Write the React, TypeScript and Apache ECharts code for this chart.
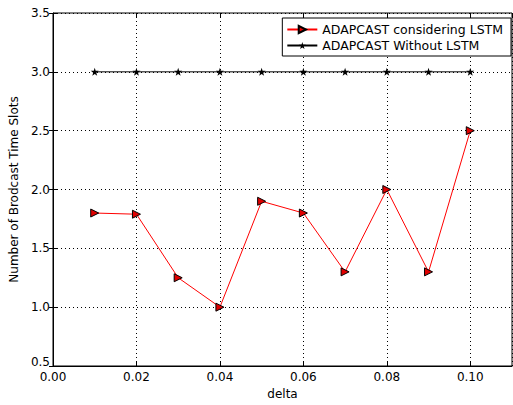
import React, { useEffect, useRef } from "react";
import * as echarts from "echarts";

const deltas = [0.01, 0.02, 0.03, 0.04, 0.05, 0.06, 0.07, 0.08, 0.09, 0.1];
const withLstm = [1.8, 1.79, 1.25, 1.0, 1.9, 1.8, 1.3, 2.0, 1.3, 2.5];
const withoutLstm = [3, 3, 3, 3, 3, 3, 3, 3, 3, 3];
const seriesNames = ["ADAPCAST considering LSTM", "ADAPCAST Without LSTM"];

const STAR =
  "path://M50,0 L61.8,35.4 L100,35.4 L69.1,57.3 L80.9,93.5 L50,71.6 L19.1,93.5 L30.9,57.3 L0,35.4 L38.2,35.4 Z";

export default function App() {
  const ref = useRef<HTMLDivElement>(null);
  useEffect(() => {
    if (!ref.current) return;
    const chart = echarts.init(ref.current, null, { renderer: "svg" });
    const font = "DejaVu Sans";
    const splitLine = { show: true, lineStyle: { color: "#000", type: [1, 3] as any, width: 1 } };
    const tick = { show: true, inside: true, length: 4, lineStyle: { color: "#000" } };
    chart.setOption({
      animation: false,
      backgroundColor: "#fff",
      textStyle: { fontFamily: font },
      grid: {
        left: 53,
        right: 1,
        top: 13,
        bottom: 32,
        show: true,
        borderColor: "#000",
        borderWidth: 1,
        backgroundColor: "transparent",
      },
      legend: {
        show: true,
        orient: "vertical",
        right: 2,
        top: 18,
        backgroundColor: "#fff",
        borderColor: "#000",
        borderWidth: 1,
        borderRadius: 0,
        padding: [5, 8, 4, 4],
        itemGap: 3,
        itemWidth: 30,
        itemHeight: 9,
        textStyle: { fontFamily: font, fontSize: 12.5, color: "#000" },
        data: seriesNames,
      },
      xAxis: [
        {
          type: "value",
          min: 0,
          max: 0.11,
          interval: 0.02,
          name: "delta",
          nameLocation: "middle",
          nameGap: 22,
          nameTextStyle: { fontFamily: font, fontSize: 12, color: "#000" },
          axisLine: { show: true, lineStyle: { color: "#000" } },
          axisTick: tick,
          axisLabel: {
            color: "#000",
            fontSize: 12,
            fontFamily: font,
            margin: 5,
            showMaxLabel: false,
            formatter: (v: number) => v.toFixed(2),
          },
          splitLine,
        },
        {
          type: "value",
          position: "top",
          min: 0,
          max: 0.11,
          interval: 0.02,
          axisLine: { show: false },
          axisTick: tick,
          axisLabel: { show: false },
          splitLine: { show: false },
        },
      ],
      yAxis: [
        {
          type: "value",
          min: 0.5,
          max: 3.5,
          interval: 0.5,
          name: "Number of Brodcast Time Slots",
          nameLocation: "middle",
          nameGap: 28,
          nameTextStyle: { fontFamily: font, fontSize: 12, color: "#000" },
          axisLine: { show: true, lineStyle: { color: "#000" } },
          axisTick: tick,
          axisLabel: {
            color: "#000",
            fontSize: 12,
            fontFamily: font,
            margin: 3,
            formatter: (v: number) =>
              v === 0.5 ? "{low|" + v.toFixed(1) + "}" : v.toFixed(1),
            rich: {
              low: { fontSize: 12, fontFamily: font, color: "#000", padding: [0, 0, 8, 0] },
            },
          },
          splitLine,
        },
        {
          type: "value",
          position: "right",
          min: 0.5,
          max: 3.5,
          interval: 0.5,
          axisLine: { show: false },
          axisTick: tick,
          axisLabel: { show: false },
          splitLine: { show: false },
        },
      ],
      series: [
        {
          name: seriesNames[0],
          type: "line",
          data: deltas.map((d, i) => [d, withLstm[i]]),
          symbol: "triangle",
          symbolRotate: -90,
          symbolSize: 8,
          lineStyle: { color: "#ff0000", width: 1 },
          itemStyle: { color: "#e00000", borderColor: "#000", borderWidth: 1 },
          z: 3,
        },
        {
          name: seriesNames[1],
          type: "line",
          data: deltas.map((d, i) => [d, withoutLstm[i]]),
          symbol: STAR,
          symbolSize: 8,
          lineStyle: { color: "#000", width: 1 },
          itemStyle: { color: "#000", borderColor: "#000", borderWidth: 0 },
          z: 3,
        },
      ],
    });
    return () => chart.dispose();
  }, []);
  return (
    <div
      ref={ref}
      style={{ position: "fixed", left: 0, top: 0, width: 513, height: 405 }}
    />
  );
}
